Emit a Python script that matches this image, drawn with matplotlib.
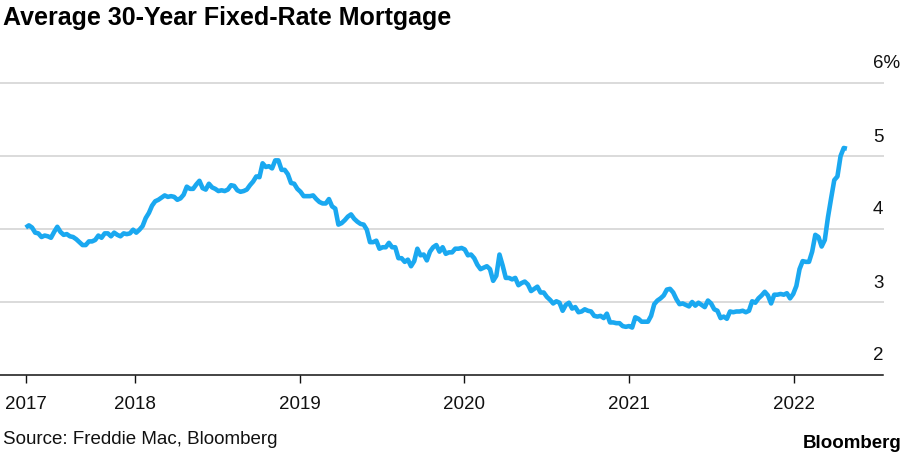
import matplotlib
matplotlib.use('Agg')
import matplotlib.pyplot as plt
import pandas as pd

plt.rcParams['font.family'] = ['Liberation Sans', 'DejaVu Sans']

# Freddie Mac weekly 30-year fixed rate (%), weekly from 2017-05-04
rates_2017 = [4.02, 4.05, 4.02, 3.95, 3.94, 3.89, 3.91, 3.90, 3.88, 3.96, 4.03, 3.96,
              3.92, 3.93, 3.90, 3.89, 3.86, 3.82, 3.78, 3.78, 3.83, 3.83, 3.85, 3.91,
              3.88, 3.94, 3.94, 3.90, 3.95, 3.92, 3.90, 3.94, 3.93, 3.94, 3.99]
rates_2018 = [3.95, 3.99, 4.04, 4.15, 4.22, 4.32, 4.38, 4.40, 4.43, 4.46, 4.44, 4.45,
              4.44, 4.40, 4.42, 4.47, 4.58, 4.55, 4.55, 4.61, 4.66, 4.56, 4.54, 4.62,
              4.57, 4.55, 4.52, 4.53, 4.52, 4.54, 4.60, 4.59, 4.53, 4.51, 4.52, 4.54,
              4.60, 4.65, 4.72, 4.71, 4.90, 4.85, 4.86, 4.83, 4.94, 4.94, 4.81, 4.81,
              4.75, 4.63, 4.62, 4.55]
rates_2019 = [4.51, 4.45, 4.45, 4.45, 4.46, 4.41, 4.37, 4.35, 4.35, 4.41, 4.31, 4.28,
              4.06, 4.08, 4.12, 4.17, 4.20, 4.14, 4.10, 4.07, 4.06, 3.99, 3.82, 3.82,
              3.84, 3.73, 3.75, 3.75, 3.81, 3.75, 3.75, 3.60, 3.60, 3.55, 3.58, 3.49,
              3.56, 3.73, 3.64, 3.65, 3.57, 3.69, 3.75, 3.78, 3.69, 3.75, 3.66, 3.68,
              3.68, 3.73, 3.73, 3.74]
rates_2020 = [3.72, 3.64, 3.65, 3.60, 3.51, 3.45, 3.47, 3.49, 3.45, 3.29, 3.36, 3.65,
              3.50, 3.33, 3.33, 3.31, 3.33, 3.23, 3.26, 3.28, 3.24, 3.15, 3.18, 3.21,
              3.13, 3.13, 3.07, 3.03, 2.98, 3.01, 2.99, 2.88, 2.96, 2.99, 2.91, 2.93,
              2.86, 2.87, 2.90, 2.88, 2.87, 2.81, 2.80, 2.81, 2.78, 2.84, 2.72, 2.72,
              2.71, 2.71, 2.67, 2.66, 2.67]
rates_2021 = [2.65, 2.79, 2.77, 2.73, 2.73, 2.73, 2.81, 2.97, 3.02, 3.05, 3.09, 3.17,
              3.18, 3.13, 3.04, 2.97, 2.98, 2.96, 2.94, 3.00, 2.95, 2.99, 2.96, 2.93,
              3.02, 2.98, 2.90, 2.88, 2.78, 2.80, 2.77, 2.87, 2.86, 2.87, 2.87, 2.88,
              2.86, 2.88, 3.01, 2.99, 3.05, 3.09, 3.14, 3.09, 2.98, 3.10, 3.10, 3.11,
              3.10, 3.12, 3.05, 3.11]
rates_2022 = [3.22, 3.45, 3.56, 3.55, 3.55, 3.69, 3.92, 3.89, 3.76, 3.85, 4.16, 4.42,
              4.67, 4.72, 5.00, 5.11, 5.10]

start_date = '2017-05-04'
year_ticks = ['2018-01-01', '2019-01-01', '2020-01-01', '2021-01-01', '2022-01-01']
x_labels = ['2017', '2018', '2019', '2020', '2021', '2022']
y_values = [2, 3, 4, 5, 6]
y_labels = ['2', '3', '4', '5', '6%']

title = 'Average 30-Year Fixed-Rate Mortgage'
source = 'Source: Freddie Mac, Bloomberg'

rates = rates_2017 + rates_2018 + rates_2019 + rates_2020 + rates_2021 + rates_2022
dates = pd.date_range(start_date, periods=len(rates), freq='7D')

W, H = 908, 457
fig = plt.figure(figsize=(W / 100, H / 100), dpi=100)
ax = fig.add_axes([0, 1 - 375 / H, 883 / W, (375 - 83) / H])

for v in y_values[1:]:
    ax.axhline(v, color='#dadada', lw=1.4, zorder=1, clip_on=False)

ax.plot(dates, rates, color='#1aa8f0', lw=3.3, solid_joinstyle='round',
        solid_capstyle='butt', zorder=3)

ax.set_ylim(2, 6)
ax.set_xlim(pd.Timestamp('2017-03-08'), pd.Timestamp('2022-07-17'))

for s in ['top', 'left', 'right']:
    ax.spines[s].set_visible(False)
ax.spines['bottom'].set_color('#111111')
ax.spines['bottom'].set_linewidth(1.1)

tick_pos = [dates[0]] + [pd.Timestamp(t) for t in year_ticks]
ax.set_xticks(tick_pos)
ax.set_xticklabels(x_labels)
ax.tick_params(axis='x', direction='out', length=6, width=1.0, color='#111111',
               pad=9, labelsize=13.5, labelcolor='#111111')
ax.set_yticks([])

for v, lab in zip(y_values, y_labels):
    ax.annotate(lab, xy=(1, v), xycoords=ax.get_yaxis_transform(),
                xytext=(-10 * 0.72, 19 * 0.72), textcoords='offset points',
                ha='left', va='center', fontsize=13.5, color='#111111',
                annotation_clip=False)

fig.text(3 / W, 1 - 18 / H, title, ha='left', va='center', fontsize=18,
         fontweight='bold', color='#000000')
fig.text(3 / W, 1 - 440 / H, source, ha='left', va='center', fontsize=13.5,
         color='#111111')
fig.text(902 / W, 1 - 443 / H, 'Bloomberg', ha='right', va='center', fontsize=13.5,
         fontweight='bold', color='#000000')

fig.savefig('out.png', dpi=100)
